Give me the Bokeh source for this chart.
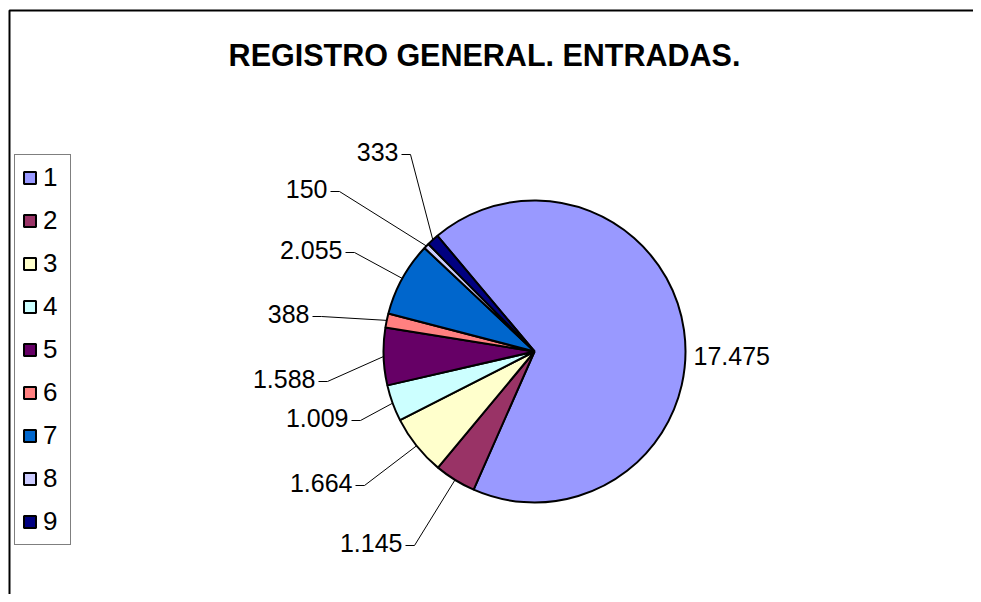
import math
from bokeh.plotting import figure
from bokeh.models import ColumnDataSource, Range1d, Legend, LegendItem, Label
from bokeh.core.properties import value
from bokeh.embed import file_html
from bokeh.resources import INLINE

# ---- data ----
categories = ["1", "2", "3", "4", "5", "6", "7", "8", "9"]
values = [17475, 1145, 1664, 1009, 1588, 388, 2055, 150, 333]
colors = ["#9999FF", "#993366", "#FFFFCC", "#CCFFFF", "#660066",
          "#FF8080", "#0066CC", "#CCCCFF", "#000080"]
title_text = "REGISTRO GENERAL. ENTRADAS."

# ---- layout ----
W, H = 973, 594
CX, CY, R = 534, 243, 151
FIRST_ANGLE = 130.0  # degrees, slices run clockwise
FONT = "Liberation Sans"
TEXT_DY = 2
# label anchor offsets from pie centre (px): (dx, dy, align)
label_layout = [(159, -6, "left"), (-132, -193, "right"), (-182, -133, "right"),
                (-186, -68, "right"), (-219, -29, "right"), (-225, 36, "right"),
                (-192, 100, "right"), (-207, 161, "right"), (-136, 198, "right")]

total = float(sum(values))
starts, ends, mids = [], [], []
cum = 0.0
for v in values:
    s = FIRST_ANGLE - cum / total * 360.0
    e = s - v / total * 360.0
    starts.append(math.radians(s))
    ends.append(math.radians(e))
    mids.append(math.radians((s + e) / 2))
    cum += v

src = ColumnDataSource(dict(start=starts, end=ends, color=colors, cat=categories))

p = figure(width=W, height=H, output_backend="svg", toolbar_location=None,
           x_range=Range1d(0, W), y_range=Range1d(0, H), min_border=0)
p.axis.visible = False
p.grid.visible = False
p.outline_line_color = None
p.background_fill_color = "white"
p.border_fill_color = "white"

# chart area border (extends beyond window on right/bottom)
p.line(x=[9, 9, W + 20], y=[-20, H - 10, H - 10], line_color="black", line_width=2)

wr = p.wedge(x=CX, y=CY, radius=R, start_angle="start", end_angle="end",
             direction="clock", fill_color="color", line_color="black",
             line_width=2, source=src)

# data labels and leader lines
lx, ly, la, lt = [], [], [], []
xs, ys = [], []
for i, v in enumerate(values):
    dx, dy, al = label_layout[i]
    x0, y0 = CX + dx, CY + dy
    lx.append(x0); ly.append(y0 + TEXT_DY); la.append(al)
    lt.append(f"{v:,}".replace(",", "."))
    if al == "right":
        ex, ey = CX + R * math.cos(mids[i]), CY + R * math.sin(mids[i])
        xs.append([x0 + 3, x0 + 12, ex])
        ys.append([y0 - 1, y0 - 1, ey])

p.multi_line(xs=xs, ys=ys, line_color="black", line_width=1)
lsrc = ColumnDataSource(dict(x=lx, y=ly, t=lt, a=la))
p.text(x="x", y="y", text="t", text_align="a", text_baseline="middle",
       text_font=value(FONT), text_font_size="25px", text_color="black", source=lsrc)

p.add_layout(Label(x=484, y=540, text=title_text, text_align="center",
                   text_baseline="middle", text_font=FONT, text_font_size="30.5px",
                   text_font_style="bold", text_color="black"))

items = [LegendItem(label=c, renderers=[wr], index=i) for i, c in enumerate(categories)]
legend = Legend(items=items, location=(14, 49), margin=0, padding=7,
                glyph_width=15, glyph_height=15, label_standoff=6, spacing=12,
                label_text_font=FONT, label_text_font_size="26px",
                label_text_color="black",
                border_line_color="black", border_line_width=1,
                background_fill_color="white", background_fill_alpha=1.0)
p.add_layout(legend)

open("out.html", "w").write(file_html(p, INLINE))
